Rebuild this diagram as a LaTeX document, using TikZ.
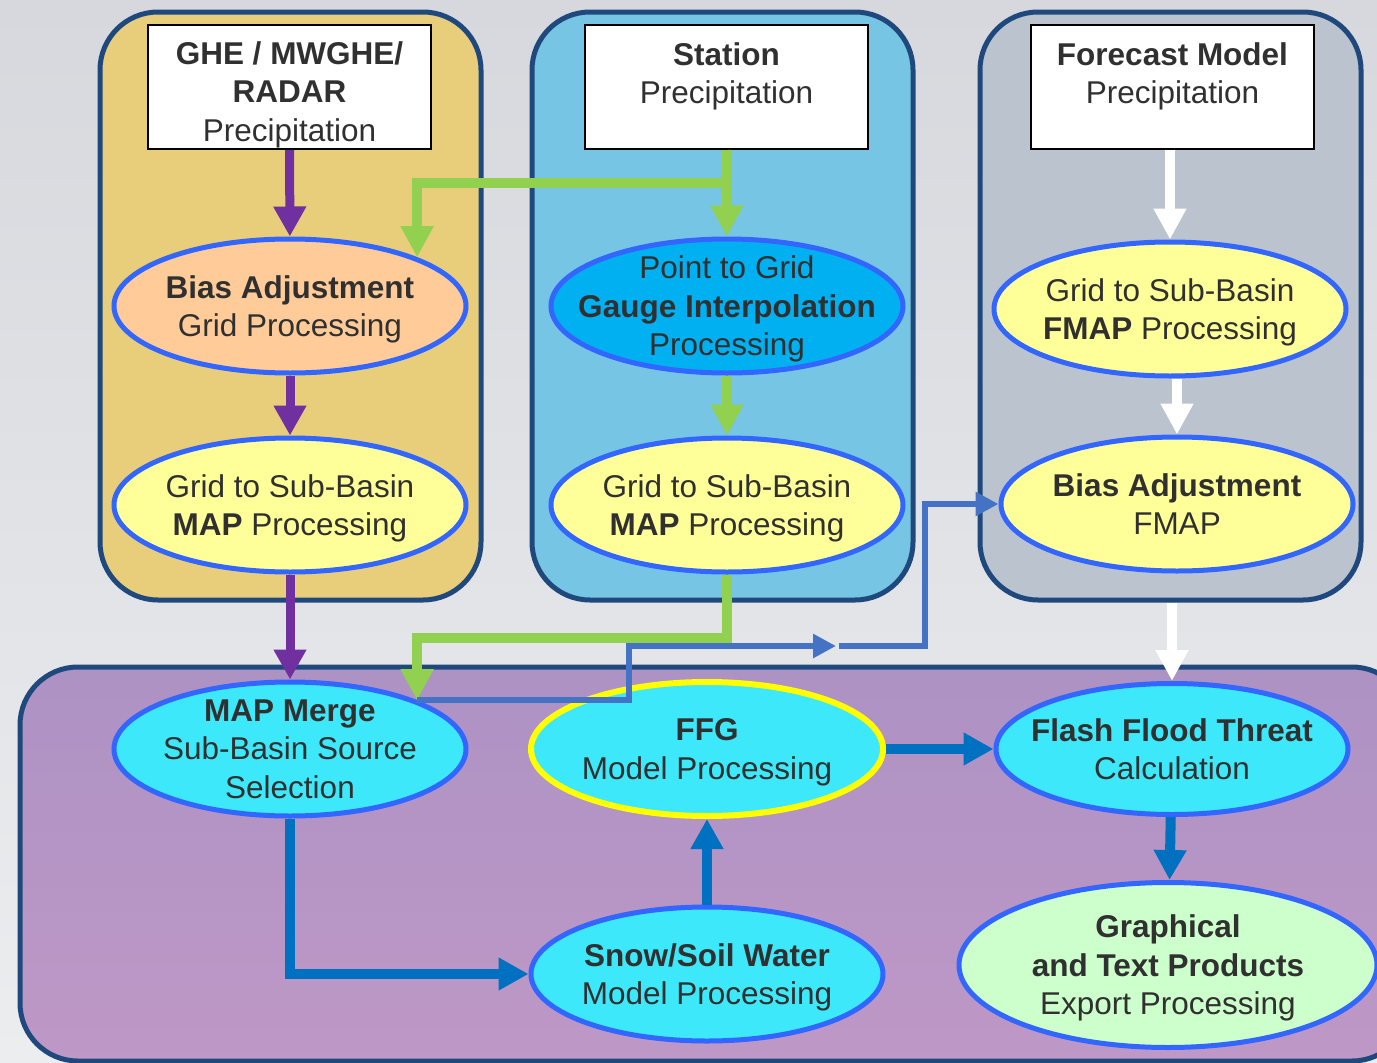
\documentclass[tikz,border=0pt]{standalone}
\usepackage{fontspec}
\setmainfont{Liberation Sans}
\usepackage{tikz}
\usetikzlibrary{arrows.meta}
\usetikzlibrary{shapes.geometric,positioning}
\definecolor{bgtop}{RGB}{214,216,221}
\definecolor{bgbottom}{RGB}{236,237,239}
\definecolor{panelline}{RGB}{31,73,125}
\definecolor{panelorange}{RGB}{232,205,122}
\definecolor{panelblue}{RGB}{118,197,228}
\definecolor{panelgrey}{RGB}{187,195,207}
\definecolor{purpletop}{RGB}{173,146,196}
\definecolor{purplebottom}{RGB}{190,152,198}
\definecolor{procline}{RGB}{51,102,255}
\definecolor{procpeach}{RGB}{255,204,153}
\definecolor{procyellow}{RGB}{255,255,153}
\definecolor{procblue}{RGB}{0,176,240}
\definecolor{proccyan}{RGB}{61,232,250}
\definecolor{procgreen}{RGB}{204,255,204}
\definecolor{ffgline}{RGB}{255,255,0}
\definecolor{flowpurple}{RGB}{112,48,160}
\definecolor{flowgreen}{RGB}{146,208,80}
\definecolor{flowblue}{RGB}{68,114,196}
\definecolor{flowdark}{RGB}{0,112,192}
\definecolor{textgrey}{RGB}{48,48,48}
\tikzset{
	every node/.style={font=\fontsize{31.5}{38.5}\selectfont,text=textgrey}
}
\tikzset{
	panel/.style={rectangle,rounded corners=58pt,draw=panelline,line width=5pt},
	src box/.style={rectangle,draw=black,line width=2pt,fill=white,minimum width=283pt,minimum height=124pt,
		inner sep=0pt,align=center,text height=116pt,text depth=8pt},
	two lines/.style={text height=78.5pt,text depth=45.5pt},
	proc node/.style={ellipse,draw=procline,line width=5pt,minimum width=352pt,minimum height=134pt,
		inner sep=-40pt,align=center,text depth=0pt},
	purple flow/.style={draw=flowpurple,line width=9pt,-{Triangle[width=31pt,length=30pt]}},
	green flow/.style={draw=flowgreen,line width=10pt,-{Triangle[width=31pt,length=31pt]}},
	blue flow/.style={draw=flowblue,line width=6pt,-{Triangle[width=23pt,length=23pt]}},
	dark flow/.style={draw=flowdark,line width=10pt,-{Triangle[width=31pt,length=30pt]}},
	white flow/.style={draw=white,line width=10pt,-{Triangle[width=31pt,length=31pt]}}
}
\begin{document}
\begin{tikzpicture}[x=1pt,y=-1pt]
	\useasboundingbox (0,0) rectangle (1377,1063);
	\clip (0,0) rectangle (1377,1063);
	\fill[top color=bgtop,bottom color=bgbottom] (0,0) rectangle (1377,1063);

	% panels
	\node[panel,fill=panelorange,minimum width=381pt,minimum height=588pt] (PA) at (290.5,306) {};
	\node[panel,fill=panelblue,minimum width=381pt,minimum height=588pt] (PB) at (722.5,306) {};
	\node[panel,fill=panelgrey,minimum width=381pt,minimum height=588pt] (PC) at (1170.5,306) {};
	\node[panel,top color=purpletop,bottom color=purplebottom,minimum width=1390pt,minimum height=394pt] (PD) at (715,864) {};

	% sources
	\node[src box] (S1) at (289.5,87) {\bfseries GHE / MWGHE/\\\bfseries RADAR\\Precipitation};
	\node[src box,two lines] (S2) at (726.5,87) {\bfseries Station\\Precipitation};
	\node[src box,two lines] (S3) at (1172.5,87) {\bfseries Forecast Model\\Precipitation};

	% processing
	\node[proc node,fill=procpeach] (E1) at (290,306) {\bfseries Bias Adjustment\\Grid Processing};
	\node[proc node,fill=procyellow,below=60pt of E1] (E2) {Grid to Sub-Basin\\\textbf{MAP} Processing};
	\node[proc node,fill=procblue] (E3) at (727,306) {Point to Grid\\\bfseries Gauge Interpolation\\Processing};
	\node[proc node,fill=procyellow,below=60pt of E3] (E4) {Grid to Sub-Basin\\\textbf{MAP} Processing};
	\node[proc node,fill=procyellow] (E5) at (1170,309) {Grid to Sub-Basin\\\textbf{FMAP} Processing};
	\node[proc node,fill=procyellow] (E6) at (1177,504) {\bfseries Bias Adjustment\\FMAP};
	\node[proc node,fill=proccyan] (E7) at (290,749) {\bfseries MAP Merge\\Sub-Basin Source\\Selection};
	\node[proc node,fill=proccyan,draw=ffgline,line width=6pt] (E8) at (707,749) {\bfseries FFG\\Model Processing};
	\node[proc node,fill=proccyan,minimum height=131pt] (E9) at (1172,749) {\bfseries Flash Flood Threat\\Calculation};
	\node[proc node,fill=proccyan] (E10) at (707,974) {\bfseries Snow/Soil Water\\Model Processing};
	\node[proc node,fill=procgreen,minimum width=418pt,minimum height=165pt] (E11) at (1168,965)
		{\bfseries Graphical\\\bfseries and Text Products\\Export Processing};

	% flows
	\coordinate (gsplit) at (727,183);
	\coordinate (relay) at (836,646);
	\draw[purple flow] (S1) -- (E1);
	\draw[purple flow] (E1) -- (E2);
	\draw[purple flow] (E2) -- (E7);
	\draw[green flow] (S2) -- (E3);
	\draw[green flow] (gsplit) -| (E1.21);
	\draw[green flow] (E3) -- (E4);
	\draw[green flow] (E4.south) -- ++(0,63) -| (E7.21);
	\draw[blue flow] (E7.21) -- ++(212,0) |- (relay);
	\draw[blue flow] ([xshift=3pt]relay) -| ([xshift=-74pt]E6.west) -- (E6.west);
	\draw[white flow] (S3.south -| E5.north) -- (E5.north);
	\draw[white flow] (E5.south -| E6.north) -- (E6.north);
	\draw[white flow] (PC.south -| E9.north) -- (E9.north);
	\draw[dark flow] (E8) -- (E9);
	\draw[dark flow] (E9) -- (E11);
	\draw[dark flow] (E10) -- (E8);
	\draw[dark flow] (E7.south) |- (E10.west);
\end{tikzpicture}
\end{document}
